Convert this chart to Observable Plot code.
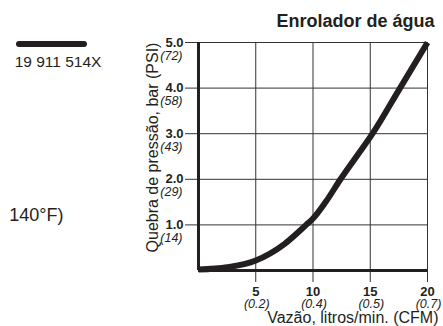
<!DOCTYPE html>
<html>
<head>
<meta charset="utf-8">
<script src="https://cdn.jsdelivr.net/npm/d3@7"></script>
<script src="https://cdn.jsdelivr.net/npm/@observablehq/plot@0.6"></script>
<style>
  html, body { margin: 0; padding: 0; background: #fff; }
  #wrap { position: relative; width: 443px; height: 326px; overflow: hidden; }
  #swatch { position: absolute; left: 16px; top: 41px; width: 71px; height: 6px; border-radius: 3px; background: #231f20; }
  svg { display: block; }
</style>
</head>
<body>
<div id="wrap"><div id="swatch"></div></div>
<script>
// Curve: flow (litres/min) vs pressure drop (bar)
const flowLpm     = [0,    2.5,  5,    7.5,  9.4, 10,   11.1, 12.4, 13.8, 15.2, 17.6, 20];
const pressureBar = [0.02, 0.07, 0.22, 0.58, 1.0, 1.14, 1.5,  2.0,  2.5,  3.0,  4.0,  5.0];

// Tick values and labels
const barTicks  = [1, 2, 3, 4, 5];
const barLabels = ["1.0", "2.0", "3.0", "4.0", "5.0"];
const psiLabels = ["(14)", "(29)", "(43)", "(58)", "(72)"];
const flowTicks = [5, 10, 15, 20];
const flowLabels = ["5", "10", "15", "20"];
const cfmLabels = ["(0.2)", "(0.4)", "(0.5)", "(0.7)"];

// Texts
const chartTitle = "Enrolador de água";
const yTitle = "Quebra de pressão, bar (PSI)";
const xTitle = "Vazão, litros/min. (CFM)";
const legendLabel = "19 911 514X";
const fragmentText = "140°F)";

const data = flowLpm.map((f, i) => ({flow: f, bar: pressureBar[i]}));
const ink = "#231f20";
const font = "'Liberation Sans', Arial, Helvetica, sans-serif";
const mid = {lineAnchor: "middle", fill: ink};

const chart = Plot.plot({
  width: 443,
  height: 326,
  marginLeft: 198,
  marginRight: 16,
  marginTop: 42,
  marginBottom: 56,
  style: {fontFamily: font, color: ink, background: "#fff"},
  x: {domain: [0, 20], axis: null},
  y: {domain: [0, 5], axis: null},
  marks: [
    // grid + tick marks
    Plot.ruleX(flowTicks, {stroke: "#333", strokeWidth: 1, insetBottom: -12}),
    Plot.ruleY(barTicks, {stroke: "#333", strokeWidth: 1, insetLeft: -13}),
    // axes lines
    Plot.ruleX([0], {stroke: ink, strokeWidth: 3}),
    Plot.ruleY([0], {stroke: ink, strokeWidth: 3}),
    // curve
    Plot.line(data, {x: "flow", y: "bar", curve: "monotone-x", stroke: ink, strokeWidth: 6, strokeLinecap: "butt"}),
    // y tick labels
    Plot.text(barTicks, {...mid, y: d => d, text: (d, i) => barLabels[i], frameAnchor: "left", textAnchor: "end", dx: -15, fontWeight: "bold", fontSize: 13}),
    Plot.text(barTicks, {...mid, y: d => d, text: (d, i) => psiLabels[i], frameAnchor: "left", textAnchor: "end", dx: -16, dy: 13, fontStyle: "italic", fontSize: 12.5}),
    // x tick labels
    Plot.text(flowTicks, {...mid, x: d => d, text: (d, i) => flowLabels[i], frameAnchor: "bottom", textAnchor: "middle", dy: 21, fontWeight: "bold", fontSize: 13}),
    Plot.text(flowTicks, {...mid, x: d => d, text: (d, i) => cfmLabels[i], frameAnchor: "bottom", textAnchor: "middle", dy: 33, dx: 1, fontStyle: "italic", fontSize: 12.5}),
    // axis titles
    Plot.text([yTitle], {...mid, frameAnchor: "left", textAnchor: "middle", rotate: -90, dx: -45.5, dy: -9, fontSize: 16}),
    Plot.text([xTitle], {...mid, frameAnchor: "bottom-right", textAnchor: "end", dx: 11, dy: 47.5, fontSize: 16}),
    // chart title
    Plot.text([chartTitle], {...mid, frameAnchor: "top-right", textAnchor: "end", dx: 7, dy: -21.5, fontSize: 18, fontWeight: "bold"}),
    // neighbouring fragments
    Plot.text([legendLabel], {...mid, frameAnchor: "top-left", textAnchor: "middle", dx: -140.5, dy: 19.7, fontSize: 15.5}),
    Plot.text([fragmentText], {...mid, frameAnchor: "top-left", textAnchor: "end", dx: -135, dy: 173, fontSize: 18})
  ]
});
document.getElementById("wrap").prepend(chart);
</script>
</body>
</html>
